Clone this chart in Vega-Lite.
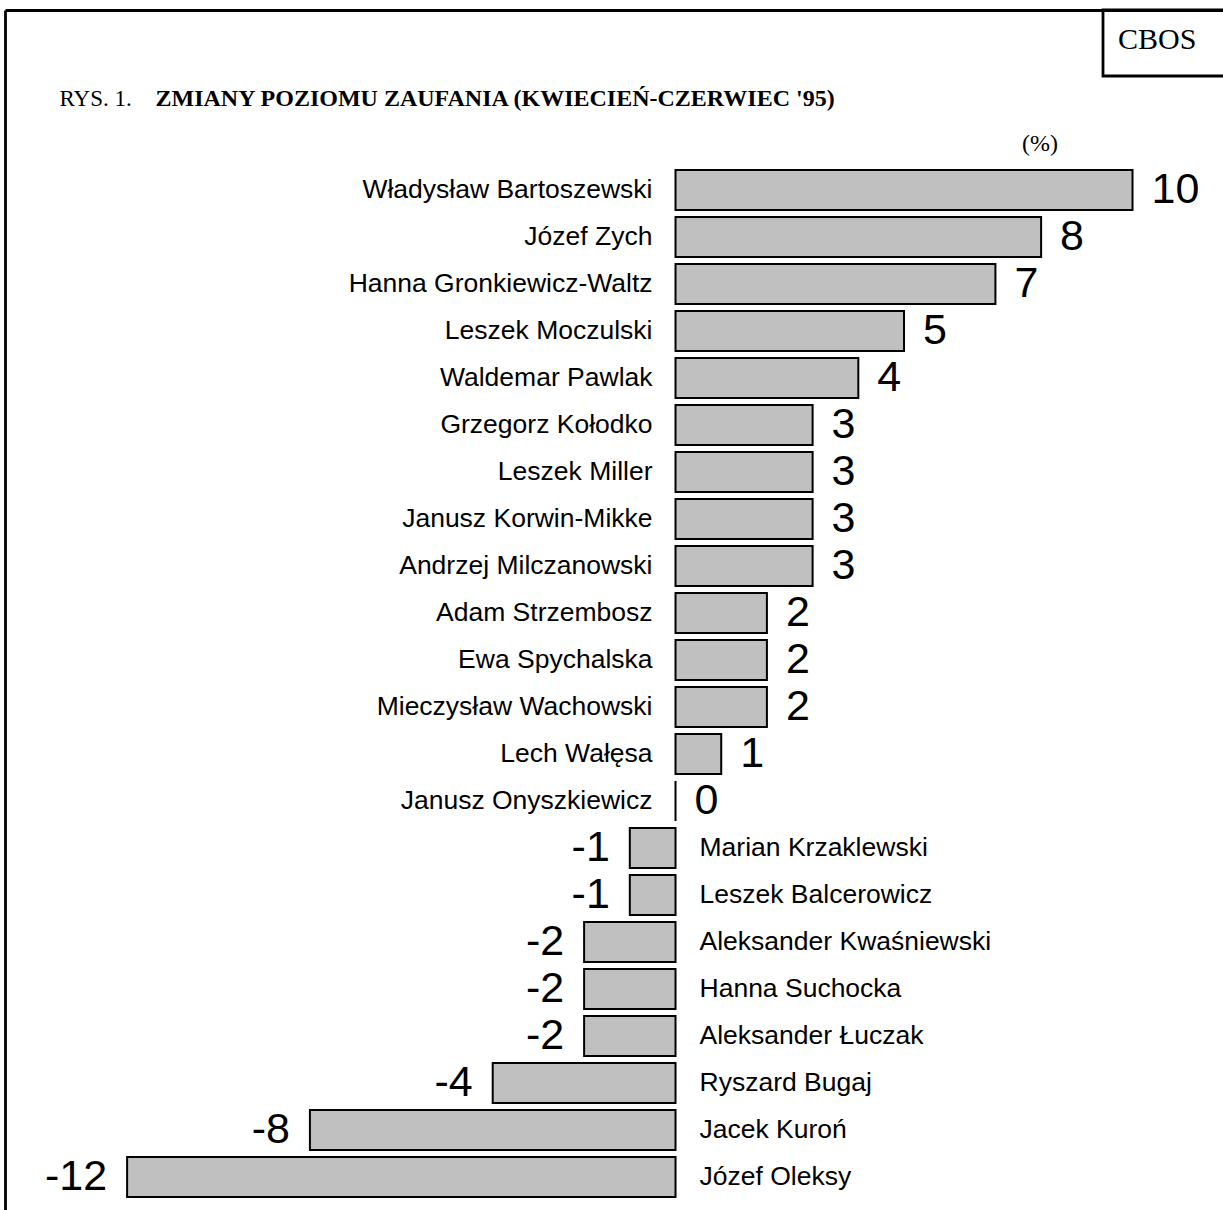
{
  "$schema": "https://vega.github.io/schema/vega-lite/v6.json",
  "width": 1218,
  "height": 1200,
  "autosize": {"type": "none"},
  "padding": {"left": 5, "top": 10, "right": 0, "bottom": 0},
  "background": "white",
  "title": {"text": "(%)", "font": "Liberation Serif", "fontSize": 24, "fontWeight": "normal", "color": "black", "anchor": "start", "frame": "group", "orient": "top", "offset": 0, "dx": 1017, "dy": 166, "baseline": "alphabetic"},
  "data": {"values": [
    {"name": "Władysław Bartoszewski", "value": 10},
    {"name": "Józef Zych", "value": 8},
    {"name": "Hanna Gronkiewicz-Waltz", "value": 7},
    {"name": "Leszek Moczulski", "value": 5},
    {"name": "Waldemar Pawlak", "value": 4},
    {"name": "Grzegorz Kołodko", "value": 3},
    {"name": "Leszek Miller", "value": 3},
    {"name": "Janusz Korwin-Mikke", "value": 3},
    {"name": "Andrzej Milczanowski", "value": 3},
    {"name": "Adam Strzembosz", "value": 2},
    {"name": "Ewa Spychalska", "value": 2},
    {"name": "Mieczysław Wachowski", "value": 2},
    {"name": "Lech Wałęsa", "value": 1},
    {"name": "Janusz Onyszkiewicz", "value": 0},
    {"name": "Marian Krzaklewski", "value": -1},
    {"name": "Leszek Balcerowicz", "value": -1},
    {"name": "Aleksander Kwaśniewski", "value": -2},
    {"name": "Hanna Suchocka", "value": -2},
    {"name": "Aleksander Łuczak", "value": -2},
    {"name": "Ryszard Bugaj", "value": -4},
    {"name": "Jacek Kuroń", "value": -8},
    {"name": "Józef Oleksy", "value": -12}
  ]},
  "encoding": {
    "x": {
      "field": "value", "type": "quantitative",
      "scale": {"domain": [-14.672, 11.98], "nice": false, "zero": false},
      "axis": {
        "orient": "top", "title": "RYS. 1.",
        "titleX": 54, "titleY": 95, "titleAlign": "left", "titleBaseline": "alphabetic", "titleAngle": 0,
        "titleFont": "Liberation Serif", "titleFontSize": 23, "titleFontWeight": "normal", "titleColor": "black",
        "labels": false, "ticks": false, "grid": false,
        "domain": true, "domainColor": "black", "domainWidth": 2.8
      }
    },
    "y": {
      "field": "name", "type": "nominal",
      "scale": {
        "domain": [" ", "  ", "   ", "Władysław Bartoszewski", "Józef Zych", "Hanna Gronkiewicz-Waltz", "Leszek Moczulski", "Waldemar Pawlak", "Grzegorz Kołodko", "Leszek Miller", "Janusz Korwin-Mikke", "Andrzej Milczanowski", "Adam Strzembosz", "Ewa Spychalska", "Mieczysław Wachowski", "Lech Wałęsa", "Janusz Onyszkiewicz", "Marian Krzaklewski", "Leszek Balcerowicz", "Aleksander Kwaśniewski", "Hanna Suchocka", "Aleksander Łuczak", "Ryszard Bugaj", "Jacek Kuroń", "Józef Oleksy"],
        "paddingInner": 0.14894, "paddingOuter": 0.3404, "align": 0.594, "round": false
      },
      "axis": {
        "orient": "left",
        "title": "ZMIANY POZIOMU ZAUFANIA (KWIECIEŃ-CZERWIEC '95)",
        "titleAngle": 0, "titleX": 150, "titleY": 95, "titleAlign": "left", "titleBaseline": "alphabetic",
        "titleFont": "Liberation Serif", "titleFontSize": 24, "titleFontWeight": "bold", "titleColor": "black",
        "labels": false, "ticks": false, "grid": false,
        "domain": true, "domainColor": "black", "domainWidth": 2.8
      }
    }
  },
  "layer": [
    {
      "mark": {"type": "bar", "stroke": "black", "strokeWidth": 2, "opacity": 1},
      "encoding": {
        "color": {
          "datum": "CBOS",
          "scale": {"range": ["#c0c0c0"]},
          "legend": {
            "title": "CBOS", "titleOrient": "left", "titleAnchor": "start", "titleBaseline": "top",
            "titleFont": "Liberation Serif", "titleFontSize": 30, "titleFontWeight": "normal", "titleColor": "black",
            "titlePadding": 10, "titleLimit": 0,
            "orient": "none", "legendX": 1098, "legendY": 0,
            "strokeColor": "black", "padding": 15,
            "symbolSize": 0, "symbolOpacity": 0, "symbolStrokeWidth": 0,
            "labelFontSize": 35, "labelExpr": "''",
            "encode": {"legend": {"update": {"strokeWidth": {"value": 2.8}}}}
          }
        }
      }
    },
    {
      "transform": [{"filter": "datum.value >= 0"}],
      "mark": {"type": "text", "align": "right", "dx": -23, "font": "Liberation Sans", "fontSize": 26.5, "fill": "black"},
      "encoding": {
        "x": {"datum": 0},
        "text": {"field": "name", "type": "nominal"}
      }
    },
    {
      "transform": [{"filter": "datum.value < 0"}],
      "mark": {"type": "text", "align": "left", "dx": 24, "font": "Liberation Sans", "fontSize": 26.5, "fill": "black"},
      "encoding": {
        "x": {"datum": 0},
        "text": {"field": "name", "type": "nominal"}
      }
    },
    {
      "transform": [{"filter": "datum.value >= 0"}],
      "mark": {"type": "text", "align": "left", "dx": 19, "font": "Liberation Sans", "fontSize": 43, "fill": "black"},
      "encoding": {
        "text": {"field": "value", "type": "nominal"}
      }
    },
    {
      "transform": [{"filter": "datum.value < 0"}],
      "mark": {"type": "text", "align": "right", "dx": -20, "font": "Liberation Sans", "fontSize": 43, "fill": "black"},
      "encoding": {
        "text": {"field": "value", "type": "nominal"}
      }
    }
  ],
  "config": {"view": {"stroke": null}, "legend": {"strokeWidth": 2.8}}
}
